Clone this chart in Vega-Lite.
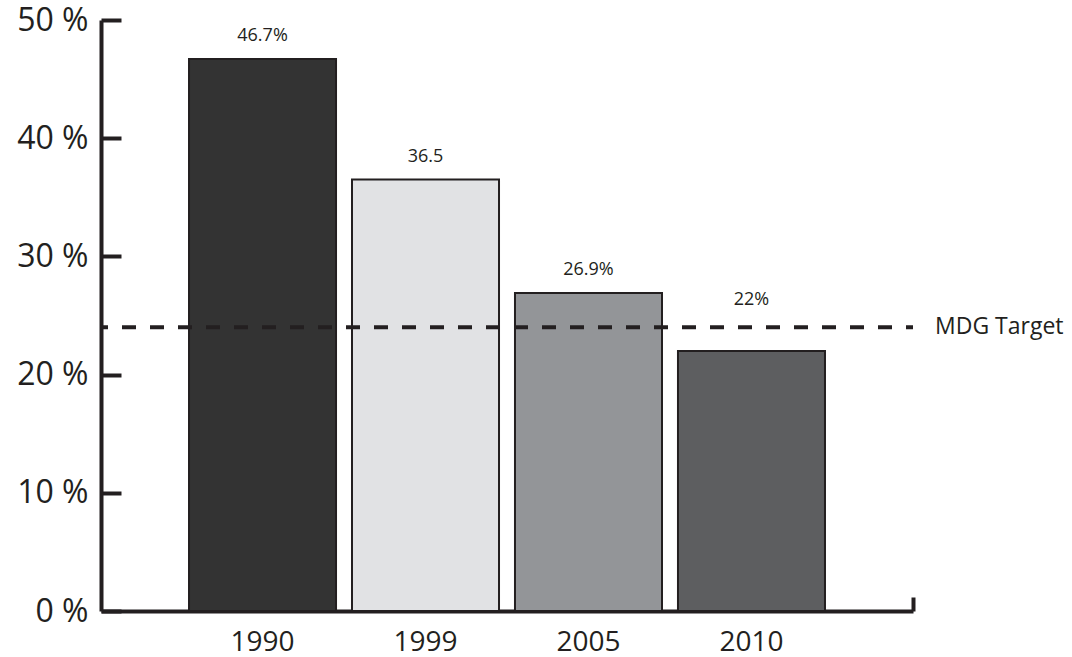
{
  "$schema": "https://vega.github.io/schema/vega-lite/v6.json",
  "autosize": {"type": "none"},
  "padding": {"left": 101, "top": 20, "right": 159, "bottom": 46},
  "width": 812,
  "height": 591,
  "background": "white",
  "config": {
    "view": {"stroke": null},
    "font": "Open Sans",
    "text": {"font": "Open Sans", "color": "#231f20"}
  },
  "datasets": {
    "bars": [
      {"year": "1990", "value": 46.7, "label": "46.7%"},
      {"year": "1999", "value": 36.5, "label": "36.5"},
      {"year": "2005", "value": 26.9, "label": "26.9%"},
      {"year": "2010", "value": 22, "label": "22%"}
    ],
    "target": [
      {"name": "MDG Target", "value": 24}
    ]
  },
  "layer": [
    {
      "data": {"name": "bars"},
      "layer": [
        {
          "mark": {"type": "bar", "stroke": "#231f20", "strokeWidth": 2},
          "encoding": {
            "x": {
              "field": "year", "type": "nominal", "sort": null,
              "scale": {"paddingInner": 0.098, "paddingOuter": 0.54},
              "axis": {
                "title": null, "labelAngle": 0, "ticks": false,
                "domainWidth": 4, "domainColor": "#231f20",
                "labelFont": "Open Sans", "labelFontSize": 28, "labelColor": "#231f20",
                "labelPadding": 17
              }
            },
            "y": {
              "field": "value", "type": "quantitative",
              "scale": {"domain": [0, 50], "nice": false},
              "axis": {
                "title": null, "values": [0, 10, 20, 30, 40, 50],
                "labelExpr": "datum.value + ' %'",
                "grid": false, "domainWidth": 4, "domainColor": "#231f20",
                "tickSize": -20, "tickWidth": 4, "tickColor": "#231f20",
                "labelFont": "Open Sans", "labelFontSize": 32, "labelColor": "#231f20",
                "labelPadding": 33
              }
            },
            "color": {
              "field": "year", "type": "nominal", "legend": null,
              "scale": {"domain": ["1990", "1999", "2005", "2010"], "range": ["#333333", "#e1e2e4", "#939598", "#5d5e60"]}
            }
          }
        },
        {
          "transform": [{"calculate": "max(datum.value, 24.4)", "as": "labelPos"}],
          "mark": {"type": "text", "fontSize": 18, "dy": -23, "baseline": "middle", "font": "Open Sans", "color": "#231f20"},
          "encoding": {
            "x": {"field": "year", "type": "nominal", "sort": null},
            "y": {"field": "labelPos", "type": "quantitative"},
            "text": {"field": "label"}
          }
        }
      ]
    },
    {
      "data": {"name": "target"},
      "mark": {"type": "rule", "strokeWidth": 4, "color": "#231f20", "strokeDash": [14, 14], "strokeDashOffset": 7},
      "encoding": {
        "y": {"field": "value", "type": "quantitative"}
      }
    },
    {
      "data": {"name": "target"},
      "mark": {"type": "text", "align": "left", "baseline": "middle", "dx": 22, "fontSize": 23, "font": "Open Sans", "color": "#231f20"},
      "encoding": {
        "x": {
          "datum": 1, "type": "quantitative",
          "scale": {"domain": [0, 1], "nice": false, "zero": false},
          "axis": {
            "orient": "top", "offset": -591, "values": [1], "tickSize": 14, "tickWidth": 4,
            "tickColor": "#231f20", "domain": false, "labels": false, "title": null, "grid": false
          }
        },
        "y": {"field": "value", "type": "quantitative"},
        "text": {"field": "name"}
      }
    }
  ],
  "resolve": {"scale": {"x": "independent"}, "axis": {"x": "independent"}}
}
